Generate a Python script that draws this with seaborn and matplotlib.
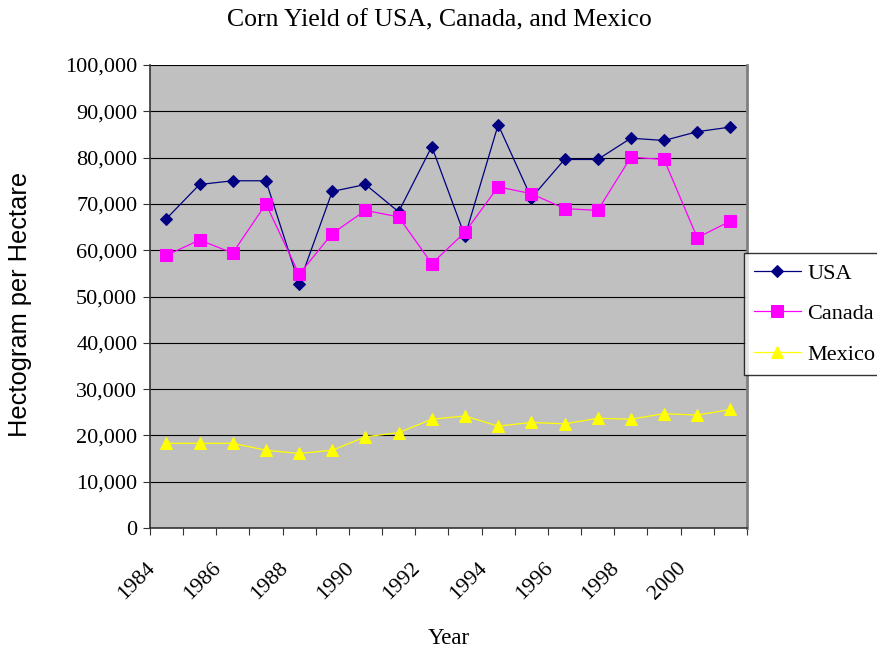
import numpy as np
import pandas as pd
import matplotlib
matplotlib.use("Agg")
import matplotlib.pyplot as plt
import matplotlib.transforms as mtransforms
from matplotlib.ticker import FuncFormatter, MultipleLocator
import seaborn as sns

# --- data (hectogram per hectare) ---
years = list(range(1984, 2002))
usa = [66800, 74200, 75000, 75000, 52800, 72700, 74200, 68300, 82400, 63000,
       87100, 71300, 79600, 79600, 84200, 83700, 85600, 86600]
canada = [58900, 62200, 59400, 70000, 54800, 63600, 68600, 67200, 57100, 63900,
          73700, 72200, 69000, 68600, 80100, 79600, 62700, 66300]
mexico = [18300, 18300, 18300, 16800, 16100, 16800, 19700, 20600, 23500, 24200,
          22000, 22800, 22500, 23700, 23500, 24700, 24400, 25600]
countries = ["USA", "Canada", "Mexico"]
tick_years = list(range(1984, 2001, 2))

colors = {"USA": "#000080", "Canada": "#FF00FF", "Mexico": "#FFFF00"}
markers = {"USA": "D", "Canada": "s", "Mexico": "^"}
msizes = {"USA": 6.5, "Canada": 8, "Mexico": 8}

df = pd.DataFrame({
    "Year": years * 3,
    "Yield": usa + canada + mexico,
    "Country": ["USA"] * len(years) + ["Canada"] * len(years) + ["Mexico"] * len(years),
})

sns.set_style("white")
plt.rcParams["font.family"] = ["Liberation Serif", "DejaVu Serif"]
plt.rcParams.update({"text.color": "black", "axes.labelcolor": "black",
                     "xtick.color": "black", "ytick.color": "black"})

fig = plt.figure(figsize=(8.78, 6.49), dpi=100)
ax = fig.add_axes([0.1706, 0.1864, 0.6802, 0.7134])
ax.set_facecolor("#C0C0C0")

for c in countries:
    sns.lineplot(data=df[df["Country"] == c], x="Year", y="Yield", ax=ax,
                 color=colors[c], marker=markers[c], markersize=msizes[c],
                 markeredgecolor=colors[c], linewidth=0.9, label=c)

ax.set_xlim(years[0] - 0.5, years[-1] + 0.5)
ax.set_ylim(0, 100000)

# y axis
ax.yaxis.set_major_locator(MultipleLocator(10000))
ax.yaxis.set_major_formatter(FuncFormatter(lambda v, p: f"{int(v):,}"))
ax.grid(axis="y", color="black", linewidth=0.8)
ax.set_axisbelow(True)

# x axis: labels every other year, tick marks between categories
ax.set_xticks(tick_years)
ax.set_xticklabels([str(y) for y in tick_years], rotation=45, ha="right",
                   rotation_mode="anchor")
ax.set_xticks(np.arange(years[0] - 0.5, years[-1] + 1, 1), minor=True)
ax.tick_params(axis="x", which="major", length=0, pad=22, labelsize=16)
ax.tick_params(axis="x", which="minor", length=5, width=0.8, color="#333333",
               direction="out", bottom=True)
ax.tick_params(axis="y", length=5, width=0.8, color="#333333", direction="out",
               left=True, pad=4, labelsize=16)
offset = mtransforms.ScaledTranslation(-15 / 72, 0, fig.dpi_scale_trans)
for lab in ax.get_xticklabels():
    lab.set_transform(lab.get_transform() + offset)

for side in ["left", "bottom"]:
    ax.spines[side].set_color("#333333")
    ax.spines[side].set_linewidth(1.2)
ax.spines["right"].set_color("#808080")
ax.spines["right"].set_linewidth(2)
ax.spines["top"].set_visible(False)

ax.set_xlabel("Year", fontsize=16.5, labelpad=0)
ax.xaxis.set_label_coords(0.5, -0.215)
ax.set_ylabel("Hectogram per Hectare", fontsize=18.3,
              family=["Liberation Sans", "DejaVu Sans"])
ax.yaxis.set_label_coords(-0.197, 0.482)

fig.suptitle("Corn Yield of USA, Canada, and Mexico", fontsize=18.5,
             y=1 - 20 / 649, va="center")

leg = ax.legend(loc="upper left", bbox_to_anchor=(744 / 878, 1 - 253 / 649),
                bbox_transform=fig.transFigure, frameon=True, fancybox=False,
                edgecolor="black", fontsize=16, handlelength=2.1,
                borderpad=0.45, labelspacing=0.9, borderaxespad=0,
                handletextpad=0.3)
leg.get_frame().set_linewidth(1)

fig.savefig("out.png", dpi=100)
